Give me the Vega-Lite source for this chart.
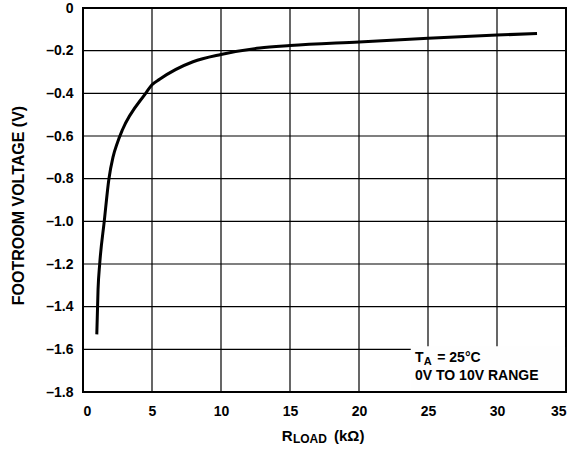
{
  "$schema": "https://vega.github.io/schema/vega-lite/v6.json",
  "width": 483,
  "height": 384,
  "autosize": {"type": "none"},
  "padding": {"left": 83, "top": 8, "right": 8, "bottom": 58},
  "background": "white",
  "config": {
    "view": {"stroke": "black", "strokeWidth": 2},
    "font": "Liberation Sans",
    "axis": {
      "labelFont": "Liberation Sans",
      "labelFontWeight": "bold",
      "labelFontSize": 14,
      "labelColor": "black",
      "titleFont": "Liberation Sans",
      "titleFontWeight": "bold",
      "titleFontSize": 16,
      "titleColor": "black",
      "grid": false,
      "ticks": false,
      "domain": false
    }
  },
  "datasets": {
    "curve": [
      {"r": 1.0, "v": -1.53},
      {"r": 1.09, "v": -1.32},
      {"r": 1.21, "v": -1.2},
      {"r": 1.54, "v": -1.0},
      {"r": 1.88, "v": -0.8},
      {"r": 2.17, "v": -0.7},
      {"r": 2.5, "v": -0.63},
      {"r": 2.85, "v": -0.572},
      {"r": 4.54, "v": -0.4},
      {"r": 5.0, "v": -0.36},
      {"r": 5.55, "v": -0.334},
      {"r": 7.97, "v": -0.252},
      {"r": 10.0, "v": -0.218},
      {"r": 12.8, "v": -0.188},
      {"r": 15.0, "v": -0.176},
      {"r": 20.0, "v": -0.159},
      {"r": 25.0, "v": -0.142},
      {"r": 30.0, "v": -0.127},
      {"r": 32.9, "v": -0.119}
    ],
    "xgrid": [{"g": 5}, {"g": 10}, {"g": 15}, {"g": 20}, {"g": 25}, {"g": 30}],
    "ygrid": [{"g": -1.6}, {"g": -1.4}, {"g": -1.2}, {"g": -1.0}, {"g": -0.8}, {"g": -0.6}, {"g": -0.4}, {"g": -0.2}],
    "box": [{"bx": 23.75, "bx2": 34.93, "by": -1.795, "by2": -1.585}]
  },
  "layer": [
    {
      "data": {"name": "curve"},
      "mark": {"type": "line", "color": "black", "strokeWidth": 3, "interpolate": "monotone", "opacity": 0},
      "encoding": {
        "x": {
          "field": "r", "type": "quantitative",
          "scale": {"domain": [0, 35], "nice": false, "zero": false},
          "axis": {"values": [0, 5, 10, 15, 20, 25, 30, 35], "labelPadding": 12, "title": null}
        },
        "y": {
          "field": "v", "type": "quantitative",
          "scale": {"domain": [-1.8, 0], "nice": false, "zero": false},
          "axis": {
            "values": [-1.8, -1.6, -1.4, -1.2, -1.0, -0.8, -0.6, -0.4, -0.2, 0],
            "labelExpr": "datum.value == 0 ? '0' : '\u2013' + format(abs(datum.value), '.1f')",
            "labelPadding": 10,
            "title": "FOOTROOM VOLTAGE (V)",
            "titleX": -65,
            "titleY": 197,
            "titleAngle": -90,
            "titleAlign": "center",
            "titleBaseline": "middle"
          }
        }
      }
    },
    {
      "data": {"name": "xgrid"},
      "mark": {"type": "rule", "color": "black", "strokeWidth": 1.2},
      "encoding": {"x": {"field": "g", "type": "quantitative"}}
    },
    {
      "data": {"name": "ygrid"},
      "mark": {"type": "rule", "color": "black", "strokeWidth": 1.2},
      "encoding": {"y": {"field": "g", "type": "quantitative"}}
    },
    {
      "data": {"name": "box"},
      "mark": {"type": "rect", "color": "#fefefe", "fill": "#fefefe", "fillOpacity": 1, "stroke": null},
      "encoding": {
        "x": {"field": "bx", "type": "quantitative"},
        "x2": {"field": "bx2"},
        "y": {"field": "by", "type": "quantitative"},
        "y2": {"field": "by2"}
      }
    },
    {
      "data": {"name": "curve"},
      "mark": {"type": "line", "color": "black", "strokeWidth": 3, "interpolate": "monotone"},
      "encoding": {
        "x": {"field": "r", "type": "quantitative"},
        "y": {"field": "v", "type": "quantitative"}
      }
    },
    {
      "data": {"values": [
        {"x": 24.06, "y": -1.658, "t": "T"},
        {"x": 25.67, "y": -1.658, "t": "= 25°C"},
        {"x": 24.06, "y": -1.744, "t": "0V TO 10V RANGE"}
      ]},
      "mark": {"type": "text", "align": "left", "baseline": "alphabetic", "font": "Liberation Sans", "fontWeight": "bold", "fontSize": 14, "color": "black"},
      "encoding": {
        "x": {"field": "x", "type": "quantitative"},
        "y": {"field": "y", "type": "quantitative"},
        "text": {"field": "t"}
      }
    },
    {
      "data": {"values": [
        {"x": 24.7, "y": -1.673, "t": "A"}
      ]},
      "mark": {"type": "text", "align": "left", "baseline": "alphabetic", "font": "Liberation Sans", "fontWeight": "bold", "fontSize": 11, "color": "black"},
      "encoding": {
        "x": {"field": "x", "type": "quantitative"},
        "y": {"field": "y", "type": "quantitative"},
        "text": {"field": "t"}
      }
    },
    {
      "data": {"values": [
        {"x": 14.4, "y": -2.028, "t": "R"},
        {"x": 18.19, "y": -2.028, "t": "(kΩ)"}
      ]},
      "mark": {"type": "text", "align": "left", "baseline": "alphabetic", "font": "Liberation Sans", "fontWeight": "bold", "fontSize": 15, "color": "black"},
      "encoding": {
        "x": {"field": "x", "type": "quantitative"},
        "y": {"field": "y", "type": "quantitative"},
        "text": {"field": "t"}
      }
    },
    {
      "data": {"values": [
        {"x": 15.21, "y": -2.041, "t": "LOAD"}
      ]},
      "mark": {"type": "text", "align": "left", "baseline": "alphabetic", "font": "Liberation Sans", "fontWeight": "bold", "fontSize": 12, "color": "black"},
      "encoding": {
        "x": {"field": "x", "type": "quantitative"},
        "y": {"field": "y", "type": "quantitative"},
        "text": {"field": "t"}
      }
    }
  ]
}
